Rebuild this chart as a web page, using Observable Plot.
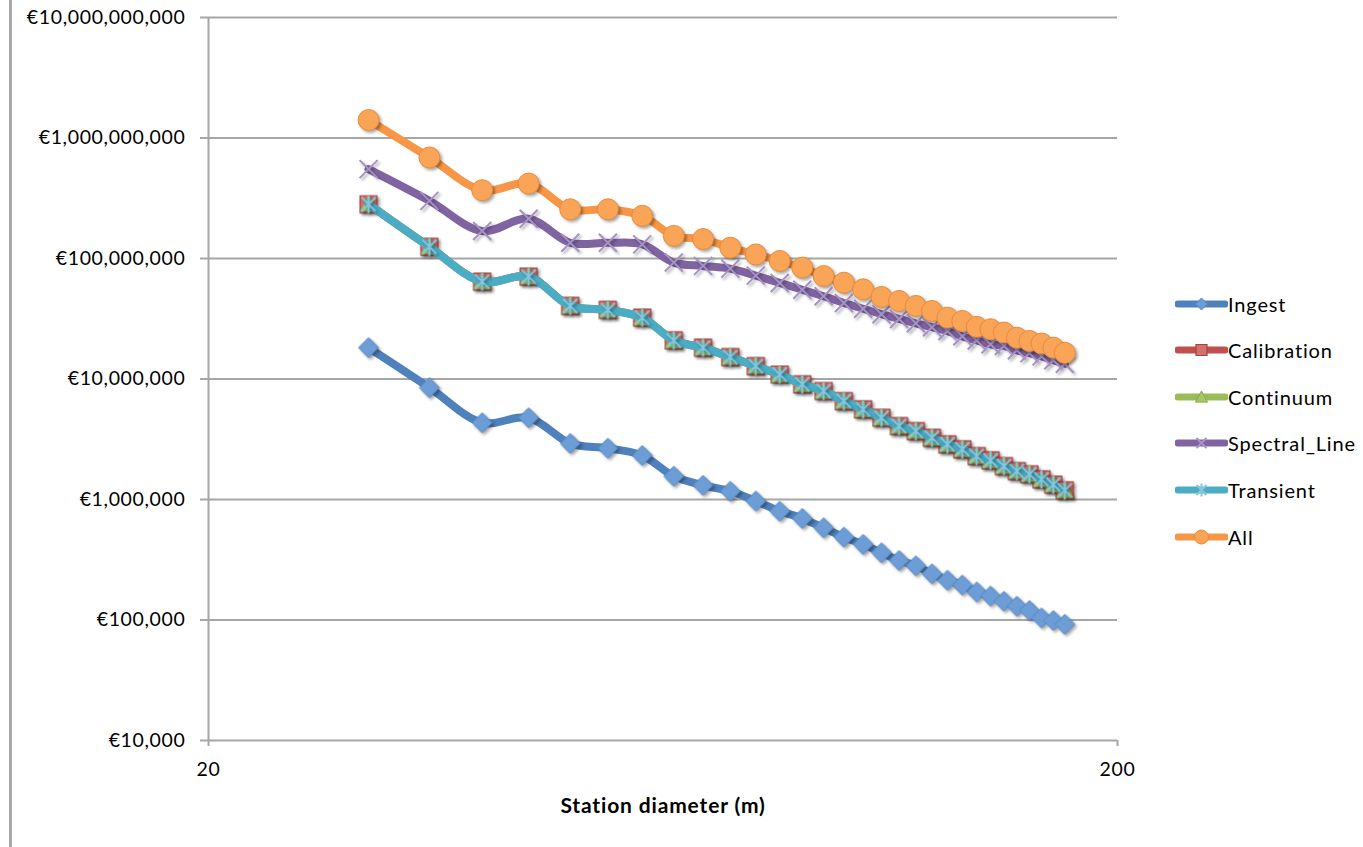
<!DOCTYPE html>
<html>
<head>
<meta charset="utf-8">
<script src="https://cdn.jsdelivr.net/npm/d3@7"></script>
<script src="https://cdn.jsdelivr.net/npm/@observablehq/plot@0.6"></script>
<style>
  body { margin: 0; background: #fff; }
  #wrap { position: relative; width: 1363px; height: 847px; overflow: hidden; background: #fff; }
  #chart { position: absolute; left: 0; top: 0; }
  #edge { position: absolute; left: 9px; top: 0; width: 3px; height: 847px; background: #a9a9a9; }
  #legend { position: absolute; left: 0; top: 0; font-family: Lato, sans-serif; font-size: 20px; color: #000; }
  .lrow { position: absolute; left: 1175px; height: 30px; display: flex; align-items: center; white-space: nowrap; letter-spacing: 0.85px; }
  .lrow svg { display: block; }
  #chart svg g[aria-label*="axis"] line,
  #chart svg g[aria-label*="axis"] path { stroke: #a6a6a6 !important; stroke-width: 2px; stroke-opacity: 1; }
  #chart svg g[aria-label*="axis"] text { font-family: Lato, sans-serif; font-size: 19.5px; fill: #000; letter-spacing: 0.65px; }
</style>
</head>
<body>
<div id="wrap"><div id="chart"></div><div id="edge"></div><div id="legend"></div></div>
<script>
// ---- data ----
const diameters = [30, 35, 40, 45, 50, 55, 60, 65, 70, 75, 80, 85, 90, 95, 100, 105, 110, 115, 120, 125, 130, 135, 140, 145, 150, 155, 160, 165, 170, 175];
const ingest = [1.82e7, 8.47e6, 4.34e6, 4.77e6, 2.92e6, 2.66e6, 2.32e6, 1.56e6, 1.31e6, 1.17e6, 9.7e5, 8.0e5, 6.97e5, 5.82e5, 4.87e5, 4.24e5, 3.61e5, 3.12e5, 2.82e5, 2.42e5, 2.14e5, 1.95e5, 1.71e5, 1.58e5, 1.43e5, 1.30e5, 1.20e5, 1.04e5, 9.9e4, 9.2e4];
const calibration = [2.82e8, 1.25e8, 6.43e7, 7.07e7, 4.04e7, 3.74e7, 3.23e7, 2.09e7, 1.82e7, 1.52e7, 1.28e7, 1.09e7, 9.04e6, 7.95e6, 6.56e6, 5.60e6, 4.77e6, 4.07e6, 3.70e6, 3.25e6, 2.87e6, 2.61e6, 2.29e6, 2.11e6, 1.89e6, 1.72e6, 1.62e6, 1.47e6, 1.33e6, 1.19e6];
const continuum = [2.82e8, 1.25e8, 6.43e7, 7.07e7, 4.04e7, 3.74e7, 3.23e7, 2.09e7, 1.82e7, 1.52e7, 1.28e7, 1.09e7, 9.04e6, 7.95e6, 6.56e6, 5.60e6, 4.77e6, 4.07e6, 3.70e6, 3.25e6, 2.87e6, 2.61e6, 2.29e6, 2.11e6, 1.89e6, 1.72e6, 1.62e6, 1.47e6, 1.33e6, 1.19e6];
const spectralLine = [5.52e8, 3.01e8, 1.69e8, 2.14e8, 1.35e8, 1.35e8, 1.31e8, 9.25e7, 8.68e7, 8.24e7, 7.21e7, 6.27e7, 5.50e7, 4.86e7, 4.27e7, 3.83e7, 3.45e7, 3.15e7, 2.90e7, 2.69e7, 2.50e7, 2.26e7, 2.09e7, 1.94e7, 1.88e7, 1.73e7, 1.64e7, 1.54e7, 1.43e7, 1.34e7];
const transient = [2.82e8, 1.25e8, 6.43e7, 7.07e7, 4.04e7, 3.74e7, 3.23e7, 2.09e7, 1.82e7, 1.52e7, 1.28e7, 1.09e7, 9.04e6, 7.95e6, 6.56e6, 5.60e6, 4.77e6, 4.07e6, 3.70e6, 3.25e6, 2.87e6, 2.61e6, 2.29e6, 2.11e6, 1.89e6, 1.72e6, 1.62e6, 1.47e6, 1.33e6, 1.19e6];
const all = [1.41e9, 6.89e8, 3.69e8, 4.19e8, 2.56e8, 2.56e8, 2.26e8, 1.54e8, 1.45e8, 1.23e8, 1.08e8, 9.55e7, 8.40e7, 7.16e7, 6.30e7, 5.55e7, 4.80e7, 4.44e7, 4.04e7, 3.67e7, 3.23e7, 3.03e7, 2.71e7, 2.59e7, 2.43e7, 2.20e7, 2.07e7, 1.97e7, 1.82e7, 1.65e7];

const seriesNames = ["Ingest", "Calibration", "Continuum", "Spectral_Line", "Transient", "All"];
const seriesValues = [ingest, calibration, continuum, spectralLine, transient, all];
const yTicks = [1e4, 1e5, 1e6, 1e7, 1e8, 1e9, 1e10];
const yTickLabels = ["€10,000", "€100,000", "€1,000,000", "€10,000,000", "€100,000,000", "€1,000,000,000", "€10,000,000,000"];
const xTicks = [20, 200];
const xTickLabels = ["20", "200"];
const xTitle = "Station diameter (m)";

// ---- styles ----
const lineColors = ["#4F81BD", "#C0504D", "#9BBB59", "#8064A2", "#4BACC6", "#F79646"];

const sym = {
  diamond: {draw(c, s) { const h = Math.sqrt(s / Math.PI); c.moveTo(0, -h); c.lineTo(h, 0); c.lineTo(0, h); c.lineTo(-h, 0); c.closePath(); }},
  square: {draw(c, s) { const h = Math.sqrt(s / Math.PI); c.rect(-h, -h, 2 * h, 2 * h); }},
  triangle: {draw(c, s) { const h = Math.sqrt(s / Math.PI); c.moveTo(0, -h); c.lineTo(h, h * 0.85); c.lineTo(-h, h * 0.85); c.closePath(); }},
  times: {draw(c, s) { const h = Math.sqrt(s / Math.PI); c.moveTo(-h, -h); c.lineTo(h, h); c.moveTo(h, -h); c.lineTo(-h, h); }},
  asterisk: {draw(c, s) { const h = Math.sqrt(s / Math.PI); c.moveTo(-h, -h); c.lineTo(h, h); c.moveTo(h, -h); c.lineTo(-h, h); c.moveTo(0, -h * 1.3); c.lineTo(0, h * 1.3); }},
  circle: {draw(c, s) { const h = Math.sqrt(s / Math.PI); c.moveTo(h, 0); c.arc(0, 0, h, 0, 2 * Math.PI); c.closePath(); }}
};
const markerStyles = [
  {symbol: sym.diamond, r: 10, fill: "#6C9DD7", stroke: "#5686C2", strokeWidth: 1},
  {symbol: sym.square, r: 8.5, fill: "#D2726F", stroke: "#A9403D", strokeWidth: 1.2},
  {symbol: sym.triangle, r: 8.5, fill: "#A7C668", stroke: "#89A94B", strokeWidth: 1},
  {symbol: sym.times, r: 9, fill: "none", stroke: "#A692C6", strokeWidth: 2},
  {symbol: sym.asterisk, r: 7, fill: "none", stroke: "#86C7DB", strokeWidth: 2},
  {symbol: sym.circle, r: 10.5, fill: "#F9A456", stroke: "#E88B3C", strokeWidth: 1}
];
const legendR = [6, 5.5, 6, 5, 5, 7];

const tables = seriesValues.map(vals => diameters.map((d, i) => ({d, v: vals[i]})));

const marks = [
  Plot.ruleY(yTicks, {stroke: "#a6a6a6", strokeWidth: 2}),
  Plot.ruleX([20], {stroke: "#a6a6a6", strokeWidth: 2})
];
tables.forEach((t, k) => {
  marks.push(Plot.line(t, {x: "d", y: "v", stroke: lineColors[k], strokeWidth: 8, curve: "catmull-rom", strokeLinejoin: "round", strokeLinecap: "round"}));
  marks.push(Plot.dot(t, {x: "d", y: "v", ...markerStyles[k]}));
});
marks.push(Plot.text([xTitle], {frameAnchor: "bottom", dy: 72, fontWeight: "bold", fontSize: 21, fontFamily: "Lato, sans-serif", fill: "#000"}));

const chart = Plot.plot({
  width: 1363,
  height: 847,
  marginLeft: 208,
  marginRight: 246,
  marginTop: 17,
  marginBottom: 107,
  style: {fontFamily: "Lato, sans-serif", fontSize: "19.5px", color: "#000", background: "#fff", overflow: "visible"},
  x: {type: "log", domain: [20, 200], ticks: xTicks, tickFormat: d => xTickLabels[xTicks.indexOf(d)], tickSize: 6, tickPadding: 16, label: null},
  y: {type: "log", domain: [1e4, 1e10], ticks: yTicks, tickFormat: d => yTickLabels[yTicks.indexOf(d)], tickSize: 8, tickPadding: 15, label: null},
  marks
});
document.getElementById("chart").appendChild(chart);
d3.select(chart).selectAll('g[aria-label="dot"]').style("filter", "drop-shadow(2px 2px 1.5px rgba(0,0,0,0.35))");
d3.select(chart).selectAll('g[aria-label="text"] text').style("letter-spacing", "0.85px");

// ---- legend ----
const legendY = [303.5, 350, 396.7, 443.3, 490, 536.7];
const legend = d3.select("#legend");
seriesNames.forEach((name, k) => {
  const row = legend.append("div").attr("class", "lrow").style("top", (legendY[k] - 15) + "px");
  const s = row.append("svg").attr("width", 53).attr("height", 30);
  s.append("line").attr("x1", 3).attr("x2", 50).attr("y1", 15).attr("y2", 15)
    .attr("stroke", lineColors[k]).attr("stroke-width", 7).attr("stroke-linecap", "round");
  const ms = markerStyles[k];
  const p = d3.path();
  ms.symbol.draw(p, Math.PI * legendR[k] * legendR[k]);
  s.append("path").attr("d", p.toString()).attr("transform", "translate(26.5,15)")
    .attr("fill", ms.fill).attr("stroke", ms.stroke).attr("stroke-width", ms.strokeWidth);
  row.append("span").text(name);
});
</script>
</body>
</html>
